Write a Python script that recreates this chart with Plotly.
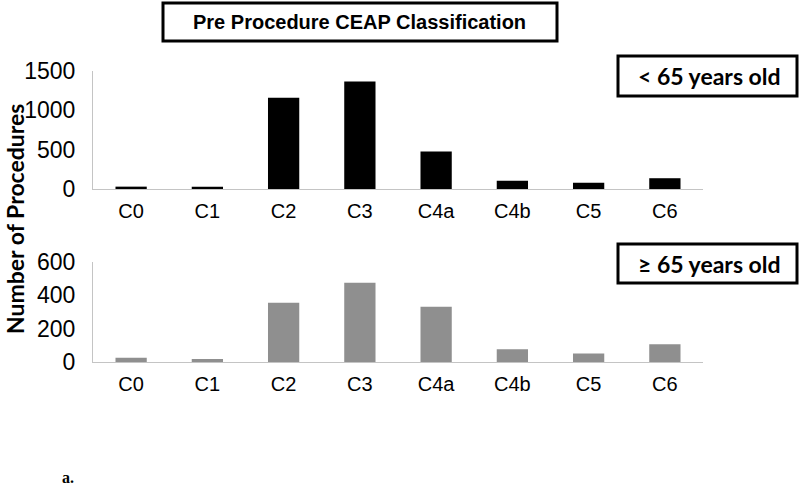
import plotly.graph_objects as go

categories = ["C0", "C1", "C2", "C3", "C4a", "C4b", "C5", "C6"]
under65 = [30, 30, 1160, 1365, 478, 106, 81, 137]
over65 = [26, 18, 354, 473, 330, 76, 50, 106]
yticks_top = [0, 500, 1000, 1500]
yticks_bottom = [0, 200, 400, 600]

W, H = 800, 490

def px(x):
    return x / W

def py(y):
    return (H - y) / H

fig = go.Figure()
fig.add_trace(go.Bar(x=categories, y=under65, marker_color="#000000",
                     marker_line_width=0, xaxis="x", yaxis="y", showlegend=False))
fig.add_trace(go.Bar(x=categories, y=over65, marker_color="#8f8f8f",
                     marker_line_width=0, xaxis="x2", yaxis="y2", showlegend=False))

axis_col = "#c4c4c4"
tickfont_y = dict(family="Liberation Sans, Arial", size=23, color="#000000")
tickfont_x = dict(family="Liberation Sans, Arial", size=20, color="#000000")

common_x = dict(showline=True, linecolor=axis_col, linewidth=1, showgrid=False,
                zeroline=False, ticks="", tickfont=tickfont_x, ticklabelstandoff=4,
                domain=[px(93), px(703)])
common_y = dict(showline=True, linecolor=axis_col, linewidth=1, showgrid=False,
                zeroline=False, ticks="", tickfont=tickfont_y, ticklabelstandoff=12)

fig.update_layout(
    width=W, height=H,
    margin=dict(l=0, r=0, t=0, b=0, autoexpand=False),
    plot_bgcolor="white", paper_bgcolor="white",
    bargap=0.59,
    xaxis=dict(anchor="y", **common_x),
    yaxis=dict(anchor="x", domain=[py(189), py(71)], range=[0, 1500],
               tickvals=yticks_top, **common_y),
    xaxis2=dict(anchor="y2", **common_x),
    yaxis2=dict(anchor="x2", domain=[py(362), py(261.5)], range=[0, 600],
                tickvals=yticks_bottom, **common_y),
)

def note(text, x, y, font, angle=0):
    fig.add_annotation(text=text, xref="paper", yref="paper", x=px(x), y=py(y),
                       xanchor="center", yanchor="middle", showarrow=False,
                       textangle=angle, font=font)

# Title box
fig.add_shape(type="rect", xref="paper", yref="paper",
              x0=px(163), x1=px(557), y0=py(41), y1=py(3),
              line=dict(color="#000000", width=3), fillcolor="rgba(0,0,0,0)")
note("<b>Pre Procedure CEAP Classification</b>", 359, 22,
     dict(family="Liberation Sans, Arial", size=20, color="#000000"))

# Group label boxes
for label, y0, y1 in [("< 65 years old", 56, 96), ("≥ 65 years old", 244, 283)]:
    fig.add_shape(type="rect", xref="paper", yref="paper",
                  x0=px(618), x1=px(797), y0=py(y1), y1=py(y0),
                  line=dict(color="#000000", width=3), fillcolor="white")
    note("<b>" + label + "</b>", 709, (y0 + y1) / 2,
         dict(family="Lato", size=23, color="#000000"))

# Y axis title
note("<b>Number of Procedures</b>", 15, 219,
     dict(family="Lato", size=23, color="#000000"), angle=-90)

# Panel label
note("<b>a.</b>", 68, 477, dict(family="Liberation Serif", size=16, color="#000000"))

fig.write_html("out.html", config={"displayModeBar": False},
               post_script="document.body.style.margin='0';")
